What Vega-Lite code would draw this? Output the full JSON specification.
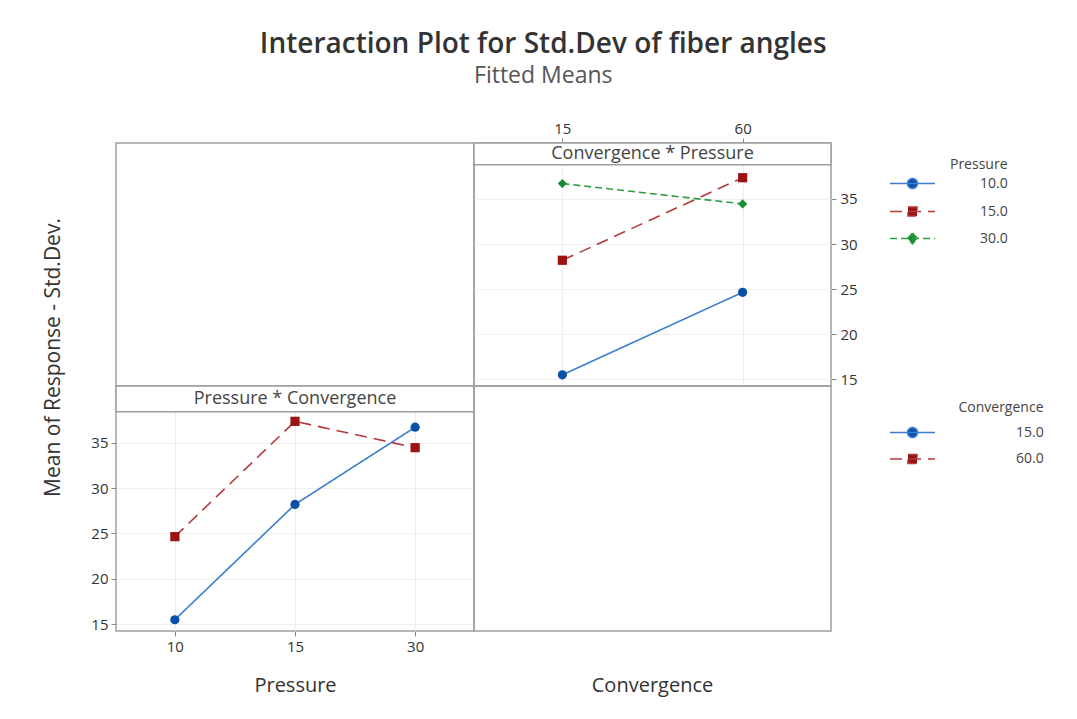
{
  "$schema": "https://vega.github.io/schema/vega-lite/v6.json",
  "background": "white",
  "padding": {"left": 41, "top": 31, "right": 5, "bottom": 5},
  "title": {
    "text": "Interaction Plot for Std.Dev of fiber angles",
    "subtitle": "Fitted Means",
    "anchor": "middle",
    "fontSize": 28,
    "fontWeight": 600,
    "color": "#333333",
    "subtitleFontSize": 23,
    "subtitleColor": "#555555",
    "subtitlePadding": 6,
    "offset": 32
  },
  "datasets": {
    "means": [
      {"Pressure": 10, "Convergence": 15, "Mean": 15.5},
      {"Pressure": 10, "Convergence": 60, "Mean": 24.65},
      {"Pressure": 15, "Convergence": 15, "Mean": 28.2},
      {"Pressure": 15, "Convergence": 60, "Mean": 37.35},
      {"Pressure": 30, "Convergence": 15, "Mean": 36.7},
      {"Pressure": 30, "Convergence": 60, "Mean": 34.45}
    ]
  },
  "columns": 2,
  "spacing": 0,
  "bounds": "flush",
  "align": "each",
  "resolve": {
    "scale": {"x": "independent", "y": "independent", "stroke": "independent", "fill": "independent", "shape": "independent", "strokeDash": "independent"},
    "axis": {"x": "independent", "y": "independent"},
    "legend": {"stroke": "independent", "fill": "independent", "shape": "independent", "strokeDash": "independent"}
  },
  "concat": [
    {
      "width": 358,
      "height": 243,
      "data": {"name": "means"},
      "mark": {"type": "point", "opacity": 0},
      "encoding": {
        "x": {"field": "Convergence", "type": "ordinal", "axis": null},
        "y": {"field": "Mean", "type": "quantitative", "axis": null}
      }
    },
    {
      "width": 357,
      "height": 243,
      "resolve": {"scale": {"fill": "independent", "stroke": "independent", "strokeDash": "independent", "shape": "independent"}},
      "layer": [
        {
          "data": {"name": "means"},
          "mark": {"type": "line", "strokeWidth": 1.6},
          "encoding": {
            "x": {"field": "Convergence", "type": "ordinal", "scale": {"type": "point", "padding": 0.49, "domain": [15, 60]},
              "axis": {"orient": "top", "title": null, "labelAngle": 0, "domain": false, "tickSize": 5, "tickColor": "#888888", "labelFontSize": 15, "labelColor": "#333333", "labelPadding": 2, "grid": true, "gridColor": "#ececec"}},
            "y": {"field": "Mean", "type": "quantitative", "scale": {"domain": [14.26, 41.2], "nice": false, "zero": false},
              "axis": {"orient": "right", "title": null, "values": [15, 20, 25, 30, 35], "domain": false, "tickSize": 5, "tickColor": "#888888", "labelFontSize": 15, "labelColor": "#333333", "labelPadding": 4, "grid": true, "gridColor": "#efefef"}},
            "stroke": {"field": "Pressure", "type": "nominal", "scale": {"domain": [10, 15, 30], "range": ["#3b7dd0", "#b3393b", "#2f9e44"]}, "legend": null},
            "strokeDash": {"field": "Pressure", "type": "nominal", "scale": {"domain": [10, 15, 30], "range": [[1, 0], [12, 7], [7, 4]]}, "legend": null}
          }
        },
        {
          "data": {"name": "means"},
          "mark": {"type": "point", "filled": true, "size": 85, "opacity": 1, "strokeWidth": 0},
          "encoding": {
            "x": {"field": "Convergence", "type": "ordinal"},
            "y": {"field": "Mean", "type": "quantitative"},
            "fill": {"field": "Pressure", "type": "nominal", "scale": {"domain": [10, 15, 30], "range": ["#0b50a8", "#9b1212", "#1a8c32"]}, "legend": null},
            "shape": {"field": "Pressure", "type": "nominal", "scale": {"domain": [10, 15, 30], "range": ["circle", "square", "diamond"]}, "legend": null}
          }
        },
        {
          "data": {"name": "means"},
          "transform": [{"filter": "false"}],
          "mark": {"type": "point", "filled": true, "size": 900, "opacity": 1, "strokeWidth": 1.6},
          "encoding": {
            "x": {"field": "Convergence", "type": "ordinal"},
            "y": {"field": "Mean", "type": "quantitative"},
            "fill": {"field": "Pressure", "type": "nominal", "scale": {"domain": [10, 15, 30], "range": ["#0b50a8", "#9b1212", "#1a8c32"]},
              "legend": {"title": "Pressure", "orient": "none", "legendX": 422.5, "legendY": 15, "titleAnchor": "end", "titleFontSize": 14, "titleFontWeight": "normal", "titleColor": "#444444", "titlePadding": -4.5, "labelFontSize": 14, "labelColor": "#444444", "labelOffset": 51.5, "rowPadding": 3, "symbolSize": 900, "symbolStrokeWidth": 1.6, "labelExpr": "format(datum.value, '.1f')"}},
            "stroke": {"field": "Pressure", "type": "nominal", "scale": {"domain": [10, 15, 30], "range": ["#3b7dd0", "#b3393b", "#2f9e44"]},
              "legend": {"title": "Pressure", "orient": "none", "legendX": 422.5, "legendY": 15, "titleAnchor": "end", "titleFontSize": 14, "titleFontWeight": "normal", "titleColor": "#444444", "titlePadding": -4.5, "labelFontSize": 14, "labelColor": "#444444", "labelOffset": 51.5, "rowPadding": 3, "symbolSize": 900, "symbolStrokeWidth": 1.6, "labelExpr": "format(datum.value, '.1f')"}},
            "strokeDash": {"field": "Pressure", "type": "nominal", "scale": {"domain": [10, 15, 30], "range": [[1, 0], [12, 7], [7, 4]]},
              "legend": {"title": "Pressure", "orient": "none", "legendX": 422.5, "legendY": 15, "titleAnchor": "end", "titleFontSize": 14, "titleFontWeight": "normal", "titleColor": "#444444", "titlePadding": -4.5, "labelFontSize": 14, "labelColor": "#444444", "labelOffset": 51.5, "rowPadding": 3, "symbolSize": 900, "symbolStrokeWidth": 1.6, "labelExpr": "format(datum.value, '.1f')"}},
            "shape": {"field": "Pressure", "type": "nominal", "scale": {"domain": [10, 15, 30], "range": ["M-1.5,0H1.5M0.33,0A0.33,0.33,0,1,1,-0.33,0A0.33,0.33,0,1,1,0.33,0Z", "M-1.5,0H1.5M-0.3,-0.3H0.3V0.3H-0.3Z", "M-1.5,0H1.5M0,-0.36L0.33,0L0,0.36L-0.33,0Z"]},
              "legend": {"title": "Pressure", "orient": "none", "legendX": 422.5, "legendY": 15, "titleAnchor": "end", "titleFontSize": 14, "titleFontWeight": "normal", "titleColor": "#444444", "titlePadding": -4.5, "labelFontSize": 14, "labelColor": "#444444", "labelOffset": 51.5, "rowPadding": 3, "symbolSize": 900, "symbolStrokeWidth": 1.6, "labelExpr": "format(datum.value, '.1f')"}}
          }
        },
        {
          "data": {"values": [{"label": "Convergence * Pressure"}]},
          "mark": {"type": "rect", "fill": "white", "stroke": "#9e9e9e", "strokeWidth": 1.5},
          "encoding": {"y": {"datum": 38.8}, "y2": {"datum": 41.2}}
        },
        {
          "data": {"values": [{"label": "Convergence * Pressure"}]},
          "mark": {"type": "text", "fontSize": 18, "color": "#444444"},
          "encoding": {"y": {"datum": 39.97}, "text": {"field": "label"}}
        }
      ]
    },
    {
      "width": 358,
      "height": 245,
      "resolve": {"scale": {"fill": "independent", "stroke": "independent", "strokeDash": "independent", "shape": "independent"}},
      "layer": [
        {
          "data": {"name": "means"},
          "mark": {"type": "line", "strokeWidth": 1.6},
          "encoding": {
            "x": {"field": "Pressure", "type": "ordinal", "scale": {"type": "point", "padding": 0.49, "domain": [10, 15, 30]},
              "axis": {"orient": "bottom", "title": "Pressure", "titleFontSize": 20, "titleFontWeight": "normal", "titleColor": "#333333", "titlePadding": 21, "labelAngle": 0, "domain": false, "tickSize": 5, "tickColor": "#888888", "labelFontSize": 15, "labelColor": "#333333", "labelPadding": 3, "grid": true, "gridColor": "#ececec"}},
            "y": {"field": "Mean", "type": "quantitative", "scale": {"domain": [14.26, 41.24], "nice": false, "zero": false},
              "axis": {"orient": "left", "title": "Mean of Response - Std.Dev.", "titleFontSize": 21, "titleFontWeight": "normal", "titleColor": "#333333", "titleX": -63, "titleY": -29, "titleAngle": -90, "titleAlign": "center", "titleBaseline": "middle", "values": [15, 20, 25, 30, 35], "domain": false, "tickSize": 5, "tickColor": "#888888", "labelFontSize": 15, "labelColor": "#333333", "labelPadding": 3, "grid": true, "gridColor": "#efefef"}},
            "stroke": {"field": "Convergence", "type": "nominal", "scale": {"domain": [15, 60], "range": ["#3b7dd0", "#b3393b"]}, "legend": null},
            "strokeDash": {"field": "Convergence", "type": "nominal", "scale": {"domain": [15, 60], "range": [[1, 0], [12, 7]]}, "legend": null}
          }
        },
        {
          "data": {"name": "means"},
          "mark": {"type": "point", "filled": true, "size": 85, "opacity": 1, "strokeWidth": 0},
          "encoding": {
            "x": {"field": "Pressure", "type": "ordinal"},
            "y": {"field": "Mean", "type": "quantitative"},
            "fill": {"field": "Convergence", "type": "nominal", "scale": {"domain": [15, 60], "range": ["#0b50a8", "#9b1212"]}, "legend": null},
            "shape": {"field": "Convergence", "type": "nominal", "scale": {"domain": [15, 60], "range": ["circle", "square"]}, "legend": null}
          }
        },
        {
          "data": {"name": "means"},
          "transform": [{"filter": "false"}],
          "mark": {"type": "point", "filled": true, "size": 900, "opacity": 1, "strokeWidth": 1.6},
          "encoding": {
            "x": {"field": "Pressure", "type": "ordinal"},
            "y": {"field": "Mean", "type": "quantitative"},
            "fill": {"field": "Convergence", "type": "nominal", "scale": {"domain": [15, 60], "range": ["#0b50a8", "#9b1212"]},
              "legend": {"title": "Convergence", "orient": "none", "legendX": 780.5, "legendY": 15, "titleAnchor": "end", "titleFontSize": 14, "titleFontWeight": "normal", "titleColor": "#444444", "titlePadding": 1.5, "labelFontSize": 14, "labelColor": "#444444", "labelOffset": 87.5, "rowPadding": 1.5, "symbolSize": 900, "symbolStrokeWidth": 1.6, "labelExpr": "format(datum.value, '.1f')"}},
            "stroke": {"field": "Convergence", "type": "nominal", "scale": {"domain": [15, 60], "range": ["#3b7dd0", "#b3393b"]},
              "legend": {"title": "Convergence", "orient": "none", "legendX": 780.5, "legendY": 15, "titleAnchor": "end", "titleFontSize": 14, "titleFontWeight": "normal", "titleColor": "#444444", "titlePadding": 1.5, "labelFontSize": 14, "labelColor": "#444444", "labelOffset": 87.5, "rowPadding": 1.5, "symbolSize": 900, "symbolStrokeWidth": 1.6, "labelExpr": "format(datum.value, '.1f')"}},
            "strokeDash": {"field": "Convergence", "type": "nominal", "scale": {"domain": [15, 60], "range": [[1, 0], [12, 7]]},
              "legend": {"title": "Convergence", "orient": "none", "legendX": 780.5, "legendY": 15, "titleAnchor": "end", "titleFontSize": 14, "titleFontWeight": "normal", "titleColor": "#444444", "titlePadding": 1.5, "labelFontSize": 14, "labelColor": "#444444", "labelOffset": 87.5, "rowPadding": 1.5, "symbolSize": 900, "symbolStrokeWidth": 1.6, "labelExpr": "format(datum.value, '.1f')"}},
            "shape": {"field": "Convergence", "type": "nominal", "scale": {"domain": [15, 60], "range": ["M-1.5,0H1.5M0.33,0A0.33,0.33,0,1,1,-0.33,0A0.33,0.33,0,1,1,0.33,0Z", "M-1.5,0H1.5M-0.3,-0.3H0.3V0.3H-0.3Z"]},
              "legend": {"title": "Convergence", "orient": "none", "legendX": 780.5, "legendY": 15, "titleAnchor": "end", "titleFontSize": 14, "titleFontWeight": "normal", "titleColor": "#444444", "titlePadding": 1.5, "labelFontSize": 14, "labelColor": "#444444", "labelOffset": 87.5, "rowPadding": 1.5, "symbolSize": 900, "symbolStrokeWidth": 1.6, "labelExpr": "format(datum.value, '.1f')"}}
          }
        },
        {
          "data": {"values": [{"label": "Pressure * Convergence"}]},
          "mark": {"type": "rect", "fill": "white", "stroke": "#9e9e9e", "strokeWidth": 1.5},
          "encoding": {"y": {"datum": 38.4}, "y2": {"datum": 41.24}}
        },
        {
          "data": {"values": [{"label": "Pressure * Convergence"}]},
          "mark": {"type": "text", "fontSize": 18, "color": "#444444"},
          "encoding": {"y": {"datum": 39.8}, "text": {"field": "label"}}
        }
      ]
    },
    {
      "width": 357,
      "height": 245,
      "title": {"text": "Convergence", "orient": "bottom", "anchor": "middle", "offset": 45, "fontSize": 20, "fontWeight": "normal", "color": "#333333"},
      "data": {"name": "means"},
      "mark": {"type": "point", "opacity": 0},
      "encoding": {
        "x": {"field": "Convergence", "type": "ordinal", "axis": null},
        "y": {"field": "Mean", "type": "quantitative", "axis": null}
      }
    }
  ],
  "config": {
    "font": "Open Sans",
    "view": {"stroke": "#9e9e9e", "strokeWidth": 1.5}
  }
}
